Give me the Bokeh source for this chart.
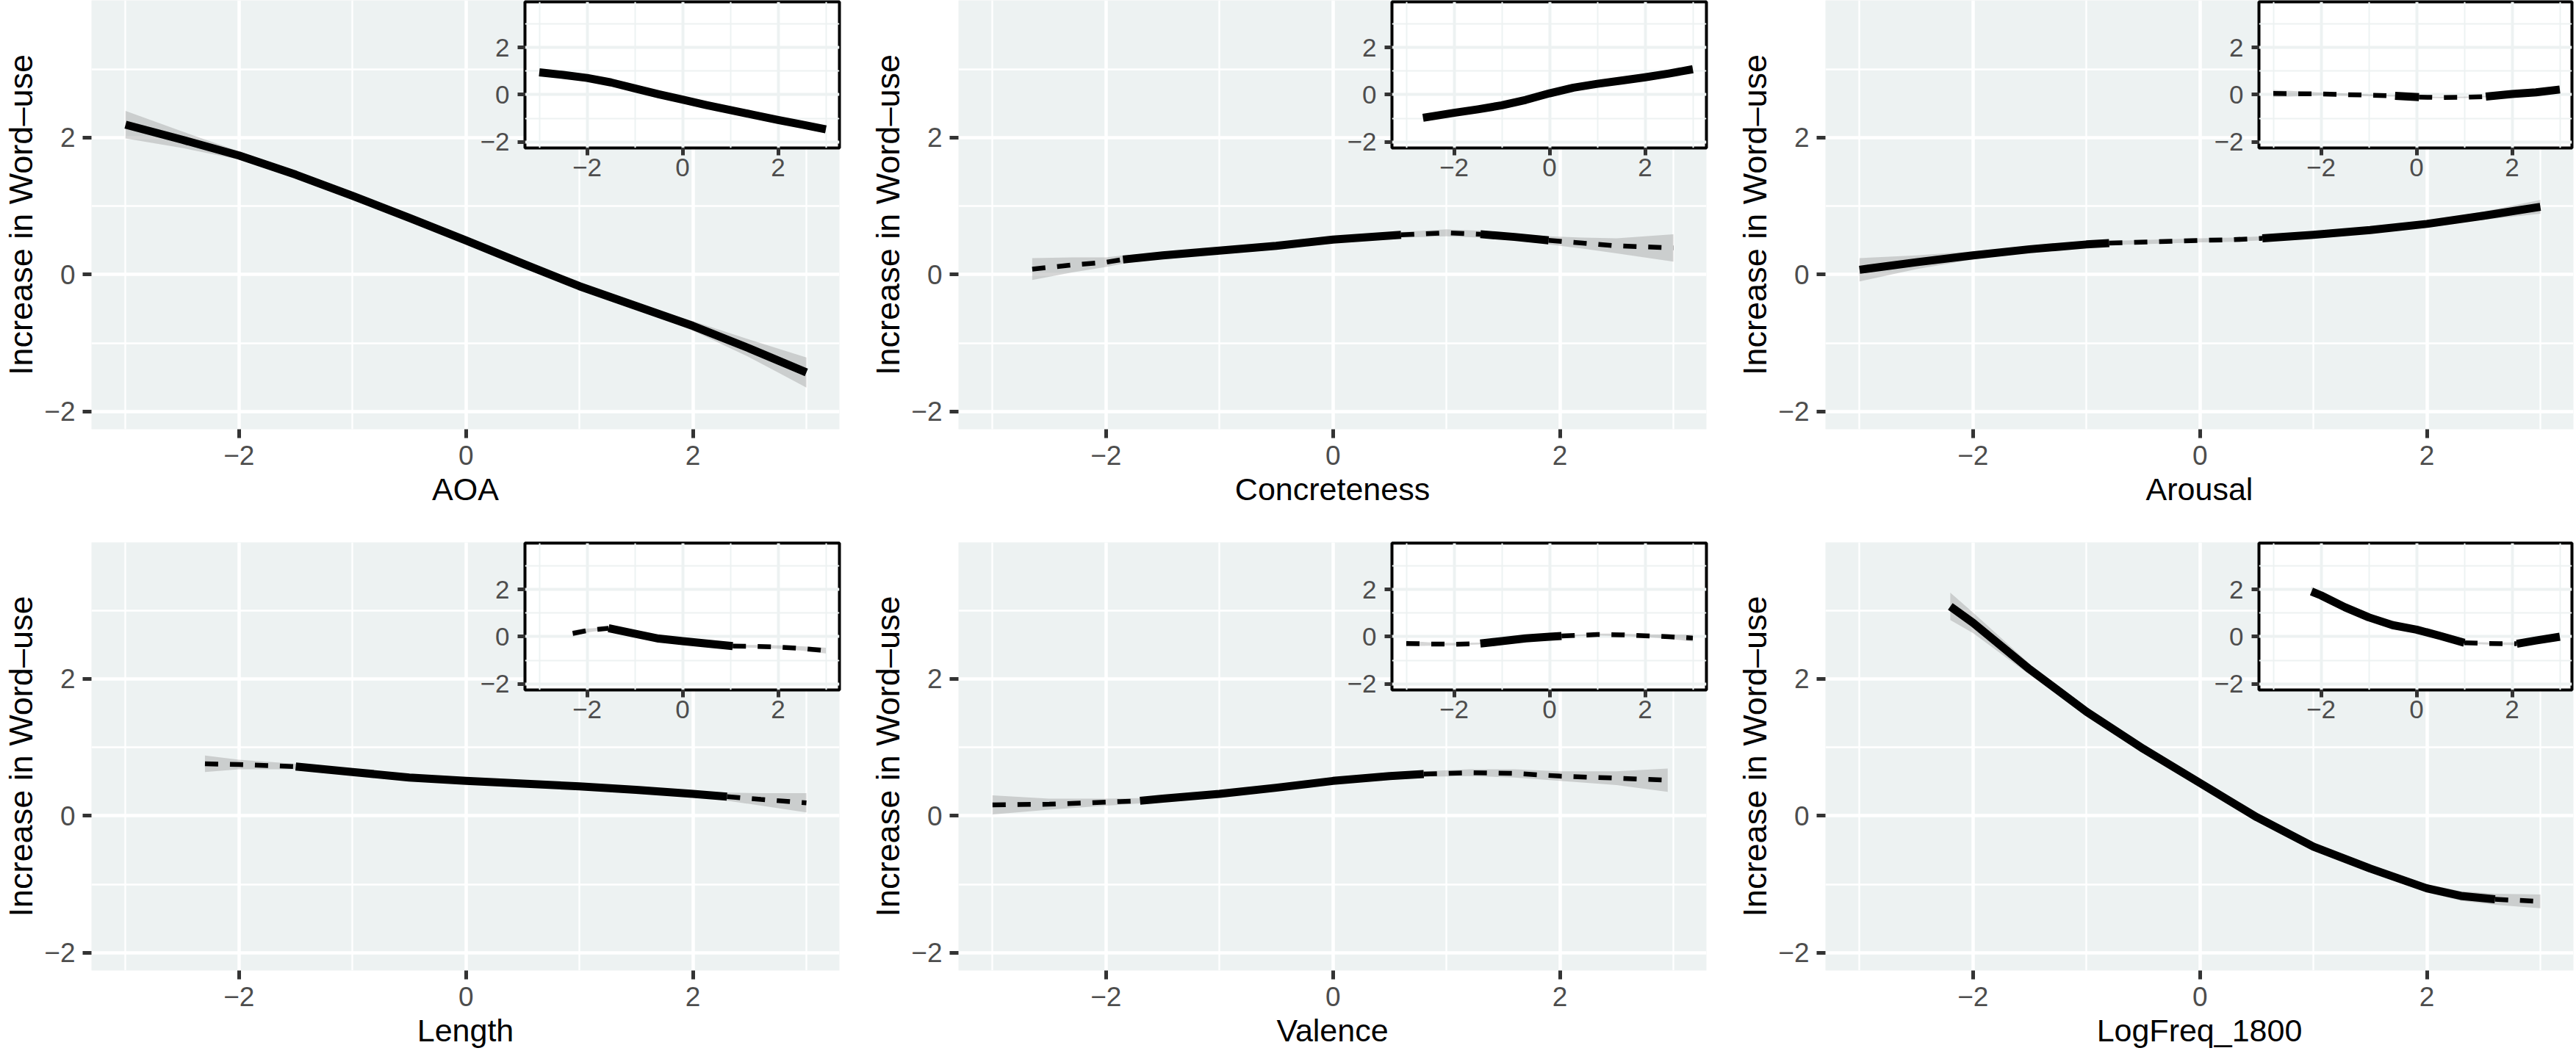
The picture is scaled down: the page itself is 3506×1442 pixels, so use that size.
from bokeh.plotting import figure
from bokeh.models import Range1d, FixedTicker, GridBox, Column
from bokeh.embed import file_html
from bokeh.resources import INLINE

# ---------------- data ----------------
x_titles = ["AOA", "Concreteness", "Arousal", "Length", "Valence", "LogFreq_1800"]
y_title = "Increase in Word–use"
tick_values = [-2, 0, 2]
tick_labels = ["−2", "0", "2"]
minor_values = [-3, -1, 1, 3]

# sig: style of each segment between consecutive points (1 = solid, 0 = dashed)
aoa_x = [-3.0, -2.5, -2.0, -1.5, -1.0, -0.5, 0.0, 0.5, 1.0, 1.5, 2.0, 2.5, 3.0]
aoa_y = [2.19, 1.97, 1.74, 1.46, 1.15, 0.83, 0.50, 0.16, -0.17, -0.46, -0.75, -1.08, -1.43]
aoa_se = [0.20, 0.12, 0.06, 0.04, 0.04, 0.03, 0.03, 0.03, 0.03, 0.04, 0.07, 0.13, 0.22]
aoa_sig = [1, 1, 1, 1, 1, 1, 1, 1, 1, 1, 1, 1]
aoa_in_x = [-3.0, -2.5, -2.0, -1.5, -1.0, -0.5, 0.0, 0.5, 1.0, 1.5, 2.0, 2.5, 3.0]
aoa_in_y = [0.95, 0.84, 0.71, 0.52, 0.27, 0.02, -0.21, -0.44, -0.65, -0.86, -1.07, -1.27, -1.47]
aoa_in_se = [0.10, 0.06, 0.04, 0.03, 0.03, 0.03, 0.03, 0.03, 0.03, 0.03, 0.04, 0.07, 0.12]
aoa_in_sig = [1, 1, 1, 1, 1, 1, 1, 1, 1, 1, 1, 1]

conc_x = [-2.65, -2.3, -2.0, -1.85, -1.5, -1.0, -0.5, 0.0, 0.6, 1.0, 1.3, 1.6, 1.9, 2.2, 2.5, 3.0]
conc_y = [0.08, 0.14, 0.18, 0.22, 0.28, 0.35, 0.42, 0.51, 0.58, 0.61, 0.59, 0.55, 0.50, 0.46, 0.42, 0.39]
conc_se = [0.16, 0.11, 0.07, 0.06, 0.04, 0.03, 0.03, 0.03, 0.04, 0.05, 0.05, 0.05, 0.06, 0.08, 0.11, 0.20]
conc_sig = [0, 0, 0, 1, 1, 1, 1, 1, 0, 0, 1, 1, 0, 0, 0]
conc_in_x = [-2.65, -2.0, -1.5, -1.0, -0.5, 0.0, 0.5, 1.0, 1.5, 2.0, 2.5, 3.0]
conc_in_y = [-0.98, -0.77, -0.62, -0.45, -0.22, 0.06, 0.30, 0.46, 0.60, 0.74, 0.90, 1.08]
conc_in_se = [0.08, 0.04, 0.03, 0.03, 0.03, 0.03, 0.03, 0.03, 0.03, 0.04, 0.07, 0.12]
conc_in_sig = [1, 1, 1, 1, 1, 1, 1, 1, 1, 1, 1]

arou_x = [-3.0, -2.5, -2.0, -1.5, -1.0, -0.8, -0.4, 0.0, 0.3, 0.55, 1.0, 1.5, 2.0, 2.5, 3.0]
arou_y = [0.07, 0.18, 0.28, 0.37, 0.44, 0.46, 0.48, 0.50, 0.51, 0.53, 0.58, 0.65, 0.74, 0.86, 0.99]
arou_se = [0.17, 0.10, 0.06, 0.04, 0.03, 0.03, 0.03, 0.03, 0.03, 0.03, 0.03, 0.03, 0.04, 0.06, 0.10]
arou_sig = [1, 1, 1, 1, 1, 0, 0, 0, 0, 1, 1, 1, 1, 1]
arou_in_x = [-3.0, -2.0, -1.0, -0.45, 0.05, 0.5, 1.0, 1.45, 2.0, 2.5, 3.0]
arou_in_y = [0.05, 0.03, -0.02, -0.05, -0.10, -0.12, -0.11, -0.08, 0.03, 0.10, 0.22]
arou_in_se = [0.15, 0.06, 0.04, 0.03, 0.03, 0.03, 0.03, 0.03, 0.04, 0.06, 0.10]
arou_in_sig = [0, 0, 0, 1, 0, 0, 0, 1, 1, 1]

len_x = [-2.3, -2.0, -1.5, -1.0, -0.5, 0.0, 0.5, 1.0, 1.5, 2.0, 2.3, 2.6, 3.0]
len_y = [0.76, 0.75, 0.72, 0.64, 0.56, 0.51, 0.47, 0.43, 0.38, 0.32, 0.28, 0.24, 0.19]
len_se = [0.12, 0.07, 0.04, 0.03, 0.02, 0.02, 0.02, 0.02, 0.03, 0.04, 0.06, 0.09, 0.14]
len_sig = [0, 0, 1, 1, 1, 1, 1, 1, 1, 1, 0, 0]
len_in_x = [-2.3, -2.0, -1.55, -1.0, -0.5, 0.0, 0.5, 1.05, 1.5, 2.0, 2.5, 3.0]
len_in_y = [0.14, 0.26, 0.36, 0.13, -0.08, -0.19, -0.29, -0.40, -0.41, -0.44, -0.50, -0.59]
len_in_se = [0.14, 0.08, 0.05, 0.04, 0.03, 0.03, 0.03, 0.04, 0.06, 0.07, 0.09, 0.12]
len_in_sig = [0, 0, 1, 1, 1, 1, 1, 0, 0, 0, 0]

val_x = [-3.0, -2.5, -2.0, -1.7, -1.5, -1.0, -0.5, 0.0, 0.5, 0.8, 1.2, 1.6, 2.0, 2.5, 2.95]
val_y = [0.16, 0.17, 0.20, 0.22, 0.25, 0.32, 0.41, 0.51, 0.58, 0.61, 0.63, 0.62, 0.58, 0.55, 0.52]
val_se = [0.14, 0.08, 0.05, 0.04, 0.03, 0.03, 0.03, 0.03, 0.03, 0.04, 0.05, 0.06, 0.07, 0.10, 0.17]
val_sig = [0, 0, 0, 1, 1, 1, 1, 1, 1, 0, 0, 0, 0, 0]
val_in_x = [-3.0, -2.5, -2.0, -1.45, -1.0, -0.5, 0.0, 0.25, 1.0, 1.5, 2.0, 2.5, 3.0]
val_in_y = [-0.29, -0.31, -0.32, -0.29, -0.19, -0.07, 0.0, 0.03, 0.09, 0.08, 0.04, 0.0, -0.06]
val_in_se = [0.12, 0.07, 0.05, 0.04, 0.03, 0.03, 0.03, 0.03, 0.04, 0.05, 0.06, 0.09, 0.15]
val_in_sig = [0, 0, 0, 1, 1, 1, 1, 0, 0, 0, 0, 0]

freq_x = [-2.2, -2.0, -1.5, -1.0, -0.5, 0.0, 0.5, 1.0, 1.5, 2.0, 2.3, 2.6, 3.0]
freq_y = [3.06, 2.82, 2.14, 1.52, 0.98, 0.48, -0.02, -0.45, -0.77, -1.06, -1.17, -1.22, -1.25]
freq_se = [0.20, 0.15, 0.08, 0.05, 0.04, 0.03, 0.03, 0.04, 0.05, 0.06, 0.07, 0.08, 0.10]
freq_sig = [1, 1, 1, 1, 1, 1, 1, 1, 1, 1, 1, 0]
freq_in_x = [-2.2, -2.0, -1.5, -1.0, -0.5, 0.0, 0.5, 1.0, 1.5, 2.1, 2.5, 3.0]
freq_in_y = [1.92, 1.75, 1.25, 0.82, 0.49, 0.30, 0.03, -0.26, -0.29, -0.30, -0.16, 0.0]
freq_in_se = [0.20, 0.14, 0.07, 0.05, 0.04, 0.04, 0.04, 0.04, 0.05, 0.06, 0.07, 0.08]
freq_in_sig = [1, 1, 1, 1, 1, 1, 1, 0, 0, 1, 1]

mains = [(aoa_x, aoa_y, aoa_se, aoa_sig), (conc_x, conc_y, conc_se, conc_sig),
         (arou_x, arou_y, arou_se, arou_sig), (len_x, len_y, len_se, len_sig),
         (val_x, val_y, val_se, val_sig), (freq_x, freq_y, freq_se, freq_sig)]
insets = [(aoa_in_x, aoa_in_y, aoa_in_se, aoa_in_sig), (conc_in_x, conc_in_y, conc_in_se, conc_in_sig),
          (arou_in_x, arou_in_y, arou_in_se, arou_in_sig), (len_in_x, len_in_y, len_in_se, len_in_sig),
          (val_in_x, val_in_y, val_in_se, val_in_sig), (freq_in_x, freq_in_y, freq_in_se, freq_in_sig)]

# ---------------- geometry / style ----------------
FONT = "Liberation Sans"
PANEL_BG = "#EDF2F2"
TICK_TEXT = "#4D4D4D"
TICK_LINE = "#333333"
SOLID_W = 11
DASH_W = 6.5
DASH = "18 16"

CELL_X = [0, 1180, 2360]
CELL_R = [1180, 2360, 3504]
CELL_Y = [0, 720]
CELL_B = [720, 1440]
FRAME_X = [123, 1303, 2483]
FRAME_R = [1142, 2322, 3502]
FRAME_Y = [0, 738]
FRAME_B = [584, 1321]
MAIN_PX_X, MAIN_PX_Y = 154.6, 93.2
X_LO, Y_LO = -3.3, -2.26
INSET_DX = 591            # inset frame left, relative to main frame left
INSET_W = 428
INSET_TOP = [2, 739]
INSET_B = [201, 939]
IN_PX_X, IN_PX_Y = 65.0, 32.1


def style_axes(p, size, tick_out, lab_standoff_x, lab_standoff_y):
    ticker = FixedTicker(ticks=tick_values, minor_ticks=minor_values)
    for ax in (p.xaxis[0], p.yaxis[0]):
        ax.ticker = ticker
        ax.major_label_overrides = dict(zip(tick_values, tick_labels))
        ax.axis_line_color = None
        ax.minor_tick_line_color = None
        ax.major_tick_line_color = TICK_LINE
        ax.major_tick_line_width = 5
        ax.major_tick_out = tick_out
        ax.major_tick_in = 0
        ax.major_label_text_font = FONT
        ax.major_label_text_font_size = size
        ax.major_label_text_color = TICK_TEXT
    p.xaxis.major_label_standoff = lab_standoff_x
    p.yaxis.major_label_standoff = lab_standoff_y


def draw_curve(p, xs, ys, se, sig):
    lower = [y - s for y, s in zip(ys, se)]
    upper = [y + s for y, s in zip(ys, se)]
    p.varea(x=xs, y1=lower, y2=upper, fill_color="#999999", fill_alpha=0.4)
    i, n = 0, len(sig)
    while i < n:
        j = i
        while j < n and sig[j] == sig[i]:
            j += 1
        sx, sy = xs[i:j + 1], ys[i:j + 1]
        if sig[i] == 1:
            p.line(sx, sy, line_color="black", line_width=SOLID_W, line_join="round")
        else:
            p.line(sx, sy, line_color="black", line_width=DASH_W, line_dash=DASH)
        i = j


children = []
for k in range(6):
    r, c = divmod(k, 3)
    # ---- main panel ----
    fw = FRAME_R[c] - FRAME_X[c]
    fh = FRAME_B[r] - FRAME_Y[r]
    W, H = CELL_R[c] - CELL_X[c], CELL_B[r] - CELL_Y[r]
    p = figure(width=W, height=H,
               x_range=Range1d(X_LO, X_LO + fw / MAIN_PX_X),
               y_range=Range1d(Y_LO, Y_LO + fh / MAIN_PX_Y),
               output_backend="svg", toolbar_location=None,
               min_border_left=FRAME_X[c] - CELL_X[c], min_border_right=CELL_R[c] - FRAME_R[c],
               min_border_top=FRAME_Y[r] - CELL_Y[r], min_border_bottom=CELL_B[r] - FRAME_B[r])
    p.background_fill_color = PANEL_BG
    p.border_fill_color = "white"
    p.outline_line_color = None
    style_axes(p, "37px", 12, 10, 10)
    for g in (p.xgrid[0], p.ygrid[0]):
        g.grid_line_color = "white"
        g.grid_line_width = 4.5
        g.minor_grid_line_color = "white"
        g.minor_grid_line_width = 2.3
    p.xaxis.axis_label = x_titles[k]
    p.xaxis.axis_label_text_font = FONT
    p.xaxis.axis_label_text_font_size = "43px"
    p.xaxis.axis_label_text_font_style = "normal"
    p.xaxis.axis_label_text_color = "black"
    p.xaxis.axis_label_standoff = 6
    p.yaxis.axis_label = y_title
    p.yaxis.axis_label_text_font = FONT
    p.yaxis.axis_label_text_font_size = "45px"
    p.yaxis.axis_label_text_font_style = "normal"
    p.yaxis.axis_label_text_color = "black"
    p.yaxis.axis_label_standoff = 3
    draw_curve(p, *mains[k])
    children.append((Column(children=[p], width=W, height=H), r, c))

    # ---- inset ----
    ix = FRAME_X[c] + INSET_DX
    ir = min(ix + INSET_W, CELL_R[c] - 4)
    itop = INSET_TOP[r]
    ih = INSET_B[r] - itop
    QW, QH = ir + 4 - CELL_X[c], (itop - CELL_Y[r]) + ih + 60
    q = figure(width=QW, height=QH,
               x_range=Range1d(X_LO, X_LO + (ir - ix) / IN_PX_X),
               y_range=Range1d(Y_LO, Y_LO + ih / IN_PX_Y),
               output_backend="svg", toolbar_location=None,
               min_border_left=ix - CELL_X[c], min_border_right=4,
               min_border_top=itop - CELL_Y[r], min_border_bottom=60)
    q.background_fill_color = "white"
    q.border_fill_color = None
    q.border_fill_alpha = 0
    q.outline_line_color = "black"
    q.outline_line_width = 4
    style_axes(q, "35px", 10, 4, 11)
    for g in (q.xgrid[0], q.ygrid[0]):
        g.grid_line_color = PANEL_BG
        g.grid_line_width = 4
        g.minor_grid_line_color = PANEL_BG
        g.minor_grid_line_width = 2
    draw_curve(q, *insets[k])
    children.append((Column(children=[q], width=QW, height=QH), r, c))

layout = GridBox(children=children, spacing=0)

open("out.html", "w").write(file_html(layout, INLINE, title="Word-use effects"))
